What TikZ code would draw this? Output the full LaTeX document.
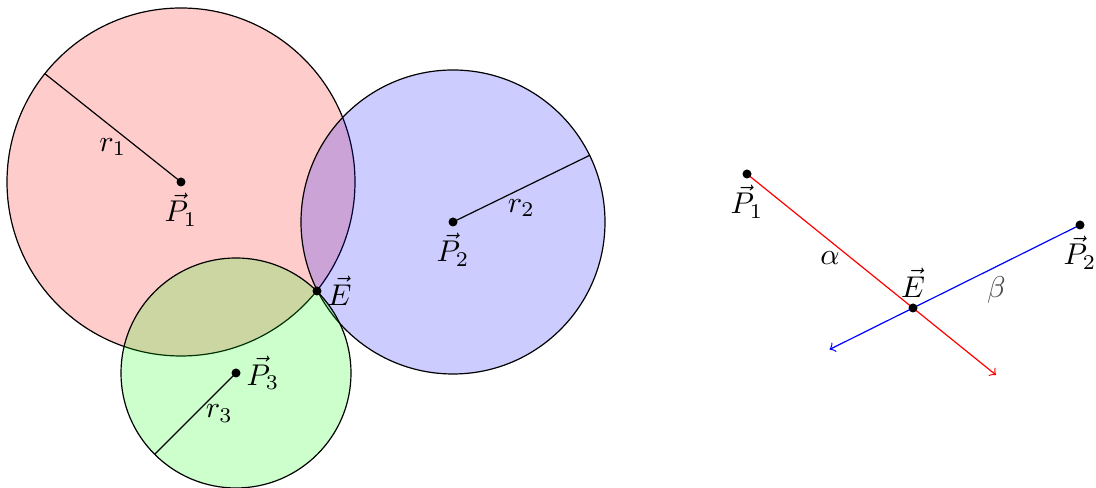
\documentclass[tikz,border=0pt]{standalone}
\usetikzlibrary{calc}
\tikzset{
  cerchio/.style={draw=black, fill=#1, fill opacity=0.2},
  punto/.style={fill=black}
}
\begin{document}
\begin{tikzpicture}[x=0.3333pt, y=0.3333pt]
        \useasboundingbox (0,0) rectangle (1096,488);
        % punti
        \coordinate (P1) at (181,306);
        \coordinate (P2) at (453,266);
        \coordinate (P3) at (236,115);
        \coordinate (E) at (317,197);
        % cerchi
        \draw [cerchio=red] (P1) circle [radius=174];
        \draw [cerchio=blue] (P2) circle [radius=152];
        \draw [cerchio=green] (P3) circle [radius=115];
        % raggi
        \draw (P1) -- ($(P1)+(141.5:174)$) node [midway, below] {$r_1$};
        \draw (P2) -- ($(P2)+(26:152)$) node [midway, below] {$r_2$};
        \draw (P3) -- ($(P3)+(225:115)$) node [midway, right] {$r_3$};
        % centri e intersezione
        \fill [punto] (P1) circle (1.5pt);\fill [punto] (P2) circle (1.5pt);
        \fill [punto] (P3) circle (1.5pt);\fill [punto] (E) circle (1.5pt);
        \node [below] (lP1) at (P1) {$\vec{P}_1$};
        \node [below] (lP2) at (P2) {$\vec{P}_2$};
        \node [right] (lP3) at (P3) {$\vec{P}_3$};
        \node [right] (lE) at (E) {$\vec{E}$};
        % rette
        \coordinate (Q1) at (747,314);
        \coordinate (Q2) at (1080,263);
        \coordinate (F) at (913,180);
        \draw [->,red] (Q1) -- ($(Q1)!1.5!(F)$);
        \draw [->,blue] (Q2) -- ($(Q2)!1.5!(F)$);
        \path (Q1) -- (F) node [midway, below] (alpha) {$\alpha$};
        \path (Q2) -- (F) node [midway, below, text=black!70] (beta) {$\beta$};
        \fill [punto] (Q1) circle (1.5pt);\fill [punto] (Q2) circle (1.5pt);
        \fill [punto] (F) circle (1.5pt);
        \node [below] (lQ1) at (Q1) {$\vec{P}_1$};
        \node [below] (lQ2) at (Q2) {$\vec{P}_2$};
        \node [above] (lF) at (F) {$\vec{E}$};
    \end{tikzpicture}
\end{document}
